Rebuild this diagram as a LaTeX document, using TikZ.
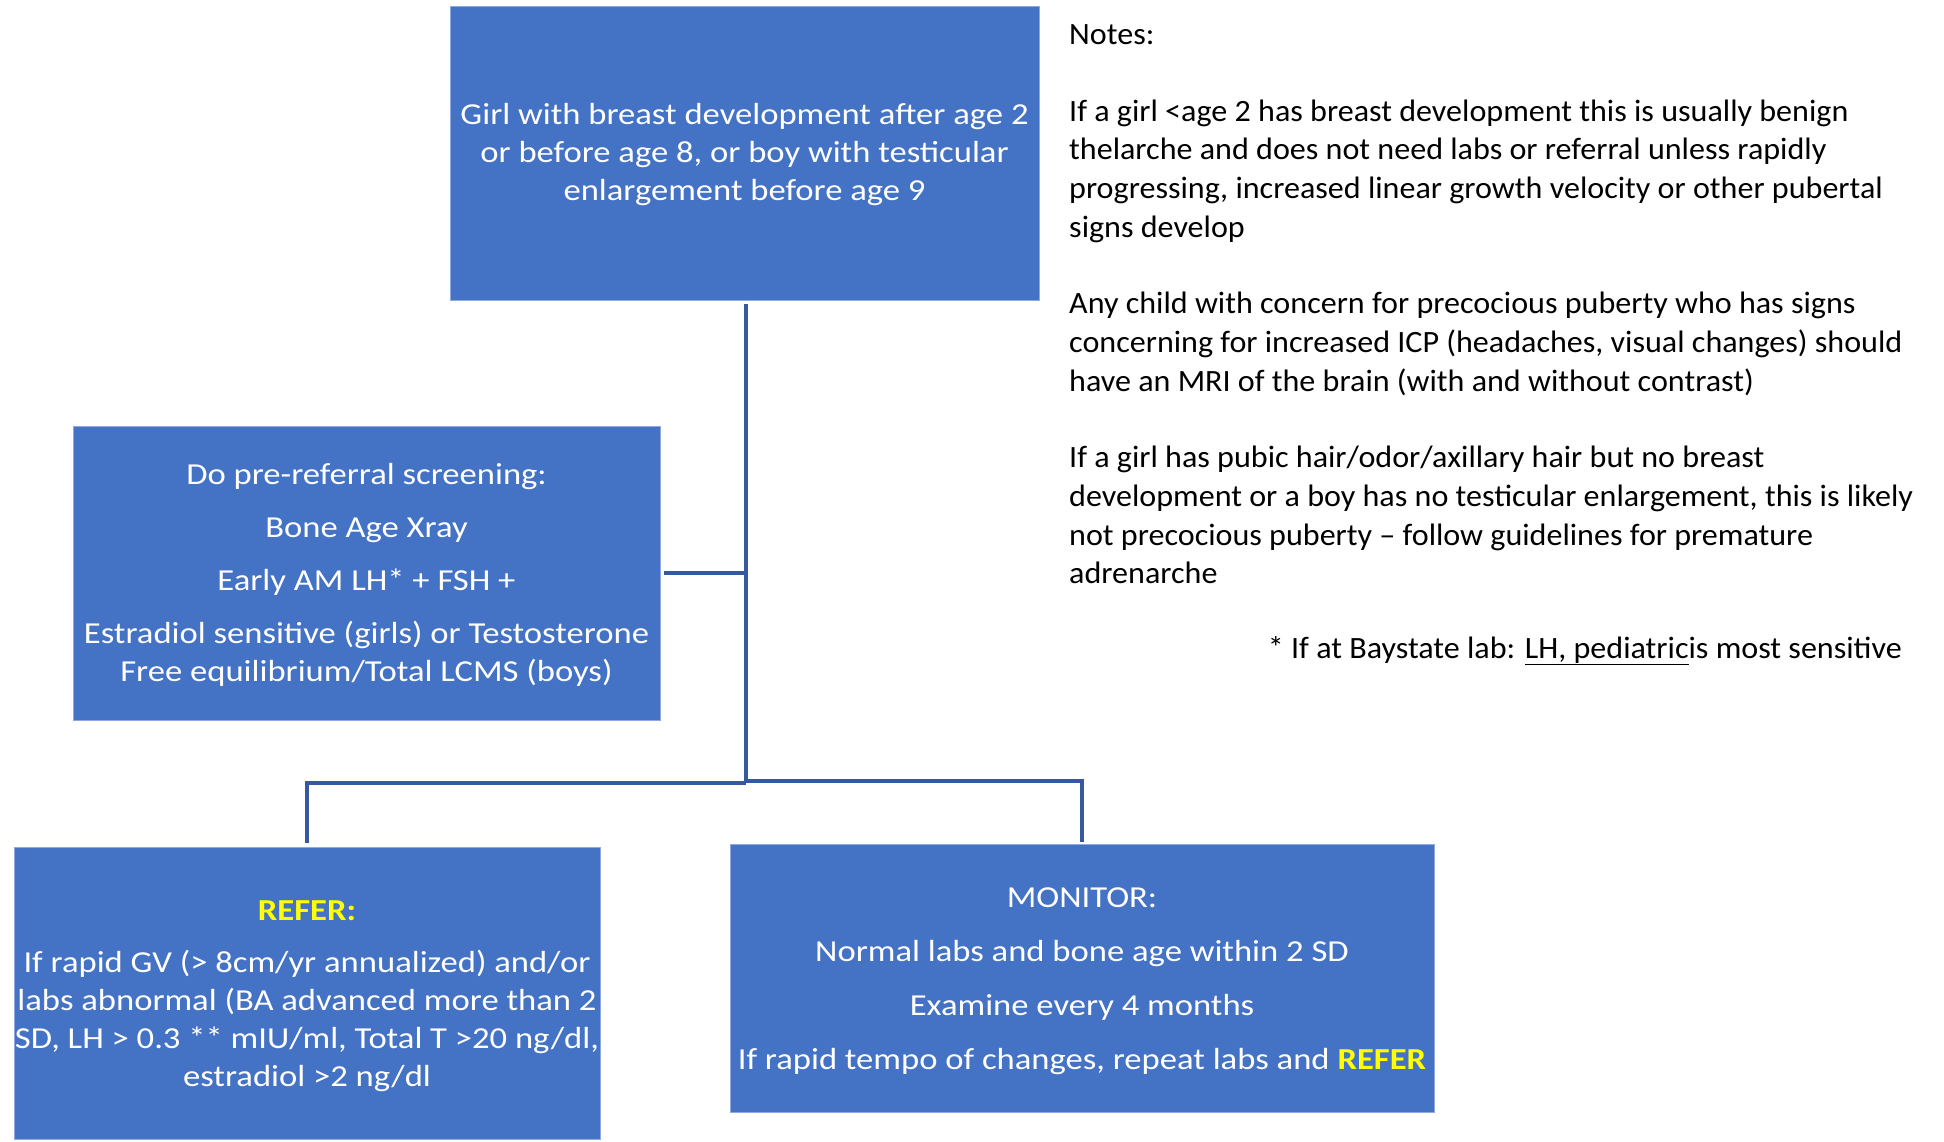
\documentclass[tikz,border=0pt]{standalone}
\usepackage{fontspec}
\setmainfont{Carlito}
\newfontfamily\boxfont[FakeStretch=1.135]{Carlito}
\newfontfamily\notefont[FakeStretch=1.035]{Carlito}
\definecolor{boxblue}{HTML}{4472C4}
\definecolor{edgeblue}{HTML}{8FAADC}
\definecolor{linkblue}{HTML}{3558A0}
\definecolor{referyellow}{HTML}{FFFF00}
\begin{document}
\begin{tikzpicture}[x=1pt,y=-1pt,
  flowbox/.style={rectangle, fill=boxblue, draw=edgeblue, line width=1pt, inner sep=0pt},
  boxtext/.style={text=white, align=center, inner sep=0pt,
    font=\boxfont\fontsize{30.5}{38}\selectfont},
  conn/.style={draw=linkblue, line width=4pt},
  noteline/.style={anchor=base west, inner sep=0pt, text=black,
    font=\notefont\fontsize{31}{38}\selectfont}]
\useasboundingbox (0,0) rectangle (1944,1141);

\node[flowbox, minimum width=589pt, minimum height=294pt] (start) at (744.5,153) {};
\node[boxtext] (starttext) at ([yshift=-1.2pt]start.center)
  {Girl with breast development after age 2\\ or before age 8, or boy with testicular\\ enlargement before age 9};

\node[flowbox, minimum width=587pt, minimum height=294pt] (screen) at (366.5,573) {};
\node[boxtext] (screentext) at ([yshift=-2pt]screen.center)
  {Do pre-referral screening:\\[15pt] Bone Age Xray\\[15pt] Early AM LH* + FSH +\\[15pt]
   Estradiol sensitive (girls) or Testosterone\\ Free equilibrium/Total LCMS (boys)};

\node[flowbox, minimum width=586pt, minimum height=292pt] (refer) at (307,993) {};
\node[boxtext] (refertext) at ([yshift=-3pt]refer.center)
  {{\color{referyellow}\textbf{REFER:}}\\[14pt]
   If rapid GV (> 8cm/yr annualized) and/or\\ labs abnormal (BA advanced more than 2\\
   SD, LH > 0.3 ** mIU/ml, Total T >20 ng/dl,\\ estradiol >2 ng/dl};

\node[flowbox, minimum width=704pt, minimum height=268pt] (monitor) at (1082,978) {};
\node[boxtext] (monitortext) at ([yshift=-3pt]monitor.center)
  {MONITOR:\\[16pt] Normal labs and bone age within 2 SD\\[16pt] Examine every 4 months\\[16pt]
   If rapid tempo of changes, repeat labs and {\color{referyellow}\textbf{REFER}}};

\coordinate (junction) at (746,783);
\coordinate (screenjoin) at (746,573);

\draw[conn] ([yshift=-3pt]start.south -| junction) -- (junction);
\draw[conn] ([xshift=3pt]screen.east) -- (screenjoin);
\draw[conn] (junction) -| ([yshift=4pt]refer.north);
\draw[conn] ([yshift=2pt]junction) -| ([yshift=2pt]monitor.north);

\node[noteline] (nh) at (1069,44) {Notes:};
\node[noteline] (n1a) at (1069,121) {If a girl <age 2 has breast development this is usually benign};
\node[noteline] (n1b) at (1069,159.8) {thelarche and does not need labs or referral unless rapidly};
\node[noteline] (n1c) at (1069,198.6) {progressing, increased linear growth velocity or other pubertal};
\node[noteline] (n1d) at (1069,237.4) {signs develop};
\node[noteline] (n2a) at (1069,313.5) {Any child with concern for precocious puberty who has signs};
\node[noteline] (n2b) at (1069,352.3) {concerning for increased ICP (headaches, visual changes) should};
\node[noteline] (n2c) at (1069,391.1) {have an MRI of the brain (with and without contrast)};
\node[noteline] (n3a) at (1069,467.5) {If a girl has pubic hair/odor/axillary hair but no breast};
\node[noteline] (n3b) at (1069,506.3) {development or a boy has no testicular enlargement, this is likely};
\node[noteline] (n3c) at (1069,545.1) {not precocious puberty – follow guidelines for premature};
\node[noteline] (n3d) at (1069,583.9) {adrenarche};
\node[noteline, anchor=base east] (foot) at (1902,658) {* If at Baystate lab: \underline{LH, pediatric}is most sensitive};
\end{tikzpicture}
\end{document}
